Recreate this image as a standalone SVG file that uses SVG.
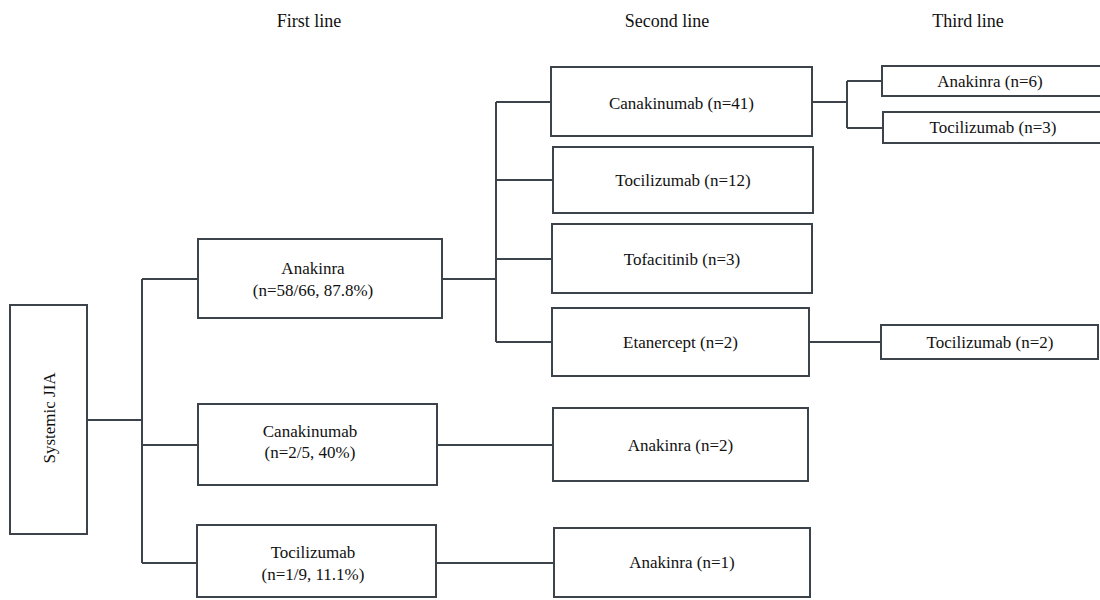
<svg xmlns="http://www.w3.org/2000/svg" width="1100" height="600" viewBox="0 0 1100 600">
<style>
.box{fill:#fff;stroke:#3c434a;stroke-width:2}
.ln{fill:none;stroke:#3c434a;stroke-width:2}
.t{font-family:'Liberation Serif','DejaVu Serif',serif;font-size:17px;fill:#111;text-anchor:middle}
.hd{font-size:18px}
</style>
<rect width="1100" height="600" fill="#fff"/>
<g id="headers" class="t" font-family="Liberation Serif, serif">
<text class="t hd" x="309" y="27">First line</text>
<text class="t hd" x="667" y="27">Second line</text>
<text class="t hd" x="968" y="27">Third line</text>
</g>
<g id="connectors">
<path class="ln" d="M87,420 H142 M142,279 V563 M142,279 H198 M142,445 H198 M142,563 H197"/>
<path class="ln" d="M442,279 H496 M496,102 V342 M496,102 H551 M496,180 H553 M496,259 H552 M496,342 H552"/>
<path class="ln" d="M812,102 H847 M847,81 V128 M847,81 H882 M847,128 H883"/>
<path class="ln" d="M809,342 H881"/>
<path class="ln" d="M437,445 H553"/>
<path class="ln" d="M436,563 H554"/>
</g>
<g id="systemic-jia">
<rect class="box" x="10" y="305" width="77" height="229"/>
<text class="t" font-family="Liberation Serif, serif" transform="translate(55,418) rotate(-90)">Systemic JIA</text>
</g>
<g id="first-anakinra" font-family="Liberation Serif, serif">
<rect class="box" x="198" y="239" width="244" height="79"/>
<text class="t" x="313" y="274">Anakinra</text>
<text class="t" x="313" y="296">(n=58/66, 87.8%)</text>
</g>
<g id="first-canakinumab">
<rect class="box" x="198" y="404" width="239" height="81"/>
<text class="t" x="310" y="437">Canakinumab</text>
<text class="t" x="310" y="458">(n=2/5, 40%)</text>
</g>
<g id="first-tocilizumab">
<rect class="box" x="197" y="525" width="239" height="72"/>
<text class="t" x="313" y="558">Tocilizumab</text>
<text class="t" x="313" y="580">(n=1/9, 11.1%)</text>
</g>
<g id="second-canakinumab">
<rect class="box" x="551" y="67" width="261" height="69"/>
<text class="t" x="681.5" y="109">Canakinumab (n=41)</text>
</g>
<g id="second-tocilizumab">
<rect class="box" x="553" y="147" width="260" height="66"/>
<text class="t" x="683" y="186">Tocilizumab (n=12)</text>
</g>
<g id="second-tofacitinib">
<rect class="box" x="552" y="224" width="260" height="69"/>
<text class="t" x="682" y="265">Tofacitinib (n=3)</text>
</g>
<g id="second-etanercept">
<rect class="box" x="552" y="308" width="257" height="68"/>
<text class="t" x="680.5" y="348">Etanercept (n=2)</text>
</g>
<g id="second-anakinra-2">
<rect class="box" x="553" y="408" width="255" height="73"/>
<text class="t" x="680.5" y="451">Anakinra (n=2)</text>
</g>
<g id="second-anakinra-1">
<rect class="box" x="554" y="528" width="256" height="69"/>
<text class="t" x="682" y="568">Anakinra (n=1)</text>
</g>
<g id="third-anakinra">
<rect class="box" x="882" y="66" width="220" height="30"/>
<text class="t" x="990" y="87">Anakinra (n=6)</text>
</g>
<g id="third-tocilizumab-3">
<rect class="box" x="883" y="112" width="222" height="31"/>
<text class="t" x="993" y="133">Tocilizumab (n=3)</text>
</g>
<g id="third-tocilizumab-2">
<rect class="box" x="881" y="325" width="217" height="34"/>
<text class="t" x="990" y="348">Tocilizumab (n=2)</text>
</g>
</svg>
